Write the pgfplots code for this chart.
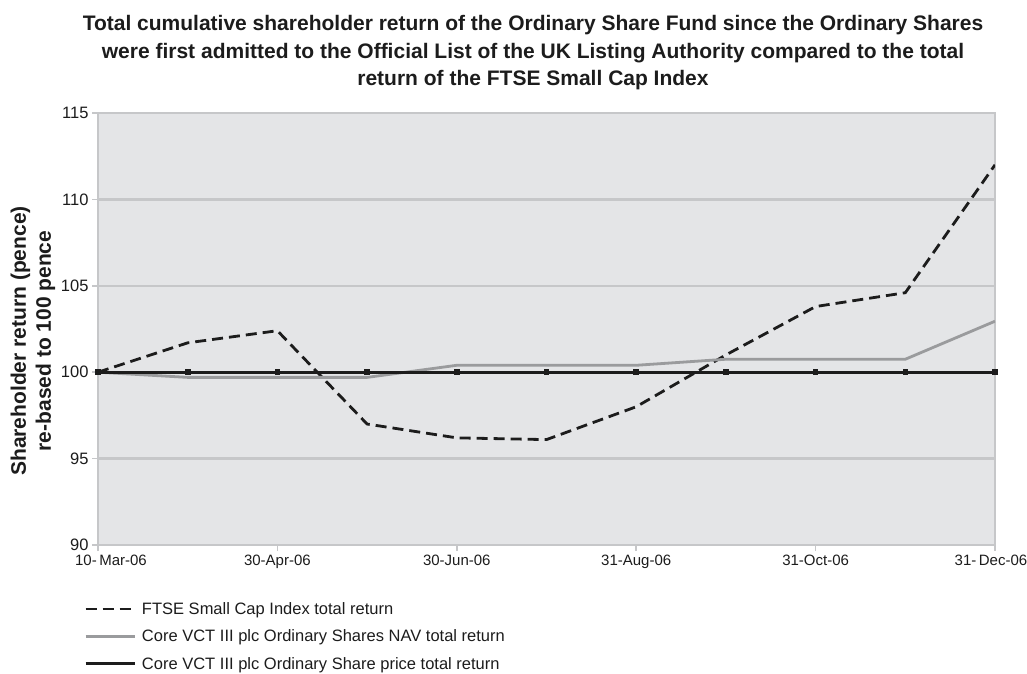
\documentclass[border=0pt]{standalone}
\usepackage{fontspec}
\setmainfont{Liberation Sans}
\usepackage{pgfplots}
\pgfplotsset{compat=1.18}
\definecolor{bgc}{HTML}{E4E5E7}
\definecolor{gridc}{HTML}{C6C7C9}
\definecolor{navc}{HTML}{9A9B9D}
\definecolor{darkc}{HTML}{1C1C1C}
\begin{document}
\begin{tikzpicture}[x=1pt,y=1pt]
\useasboundingbox (0,0) rectangle (1027,673);
\begin{axis}[
  at={(98pt,128pt)}, anchor=south west,
  scale only axis, width=897pt, height=432pt,
  xmin=0, xmax=10, ymin=90, ymax=115,
  ytick={90,95,100,105,110,115},
  xtick={0,2,4,6,8,10},
  xticklabels={\hspace*{26pt}10-\,Mar-06,30-Apr-06,30-Jun-06,31-Aug-06,31-Oct-06,31-\,Dec-06\hspace*{8pt}},
  axis background/.style={fill=bgc},
  ymajorgrids,
  grid style={gridc, line width=2.5pt},
  axis line style={gridc, line width=2.5pt},
  tick style={gridc, line width=1.5pt},
  major tick length=6pt, tick align=outside, tick pos=left,
  /pgf/number format/assume math mode=true,
  yticklabel style={font=\fontsize{16.5}{16.5}\selectfont, text=darkc},
  xticklabel style={font=\fontsize{15}{15}\selectfont, text=darkc},
  legend style={at={(axis description cs:0,0)}, anchor=north west,
    xshift=-14pt, yshift=-57pt, draw=none, fill=none,
    font=\fontsize{16.5}{16.5}\selectfont, row sep=14pt, inner sep=0pt,
    nodes={inner sep=0pt, text=darkc},
    /tikz/every odd column/.append style={column sep=6pt}},
  legend cell align=left,
  legend image code/.code={\draw[#1] (0pt,0pt) -- (49pt,0pt);},
]
\addplot[darkc, line width=2.8pt, dash pattern=on 11pt off 6pt] coordinates {
(0,100) (1,101.7) (2,102.4) (3,97.0) (4,96.2) (5,96.1) (6,98.0) (7,101.0) (8,103.8) (9,104.6) (10,112.0)};
\addlegendentry{FTSE Small Cap Index total return}
\addplot[navc, line width=2.8pt] coordinates {
(0,100) (1,99.7) (2,99.7) (3,99.7) (4,100.4) (5,100.4) (6,100.4) (7,100.75) (8,100.75) (9,100.75) (10,102.95)};
\addlegendentry{Core VCT III plc Ordinary Shares NAV total return}
\addplot[darkc, line width=2.8pt, mark=square*, mark size=1.4pt] coordinates {
(0,100) (1,100) (2,100) (3,100) (4,100) (5,100) (6,100) (7,100) (8,100) (9,100) (10,100)};
\addlegendentry{Core VCT III plc Ordinary Share price total return}
\end{axis}
\node[align=center, text=darkc, font=\bfseries\fontsize{21}{27.5}\selectfont] at (533,620)
  {Total cumulative shareholder return of the Ordinary Share Fund since the Ordinary Shares\\
   were first admitted to the Official List of the UK Listing Authority compared to the total\\
   return of the FTSE Small Cap Index};
\node[rotate=90, align=center, text=darkc, font=\bfseries\fontsize{21}{25}\selectfont] at (33,332)
  {Shareholder return (pence)\\re-based to 100 pence};
\end{tikzpicture}
\end{document}
